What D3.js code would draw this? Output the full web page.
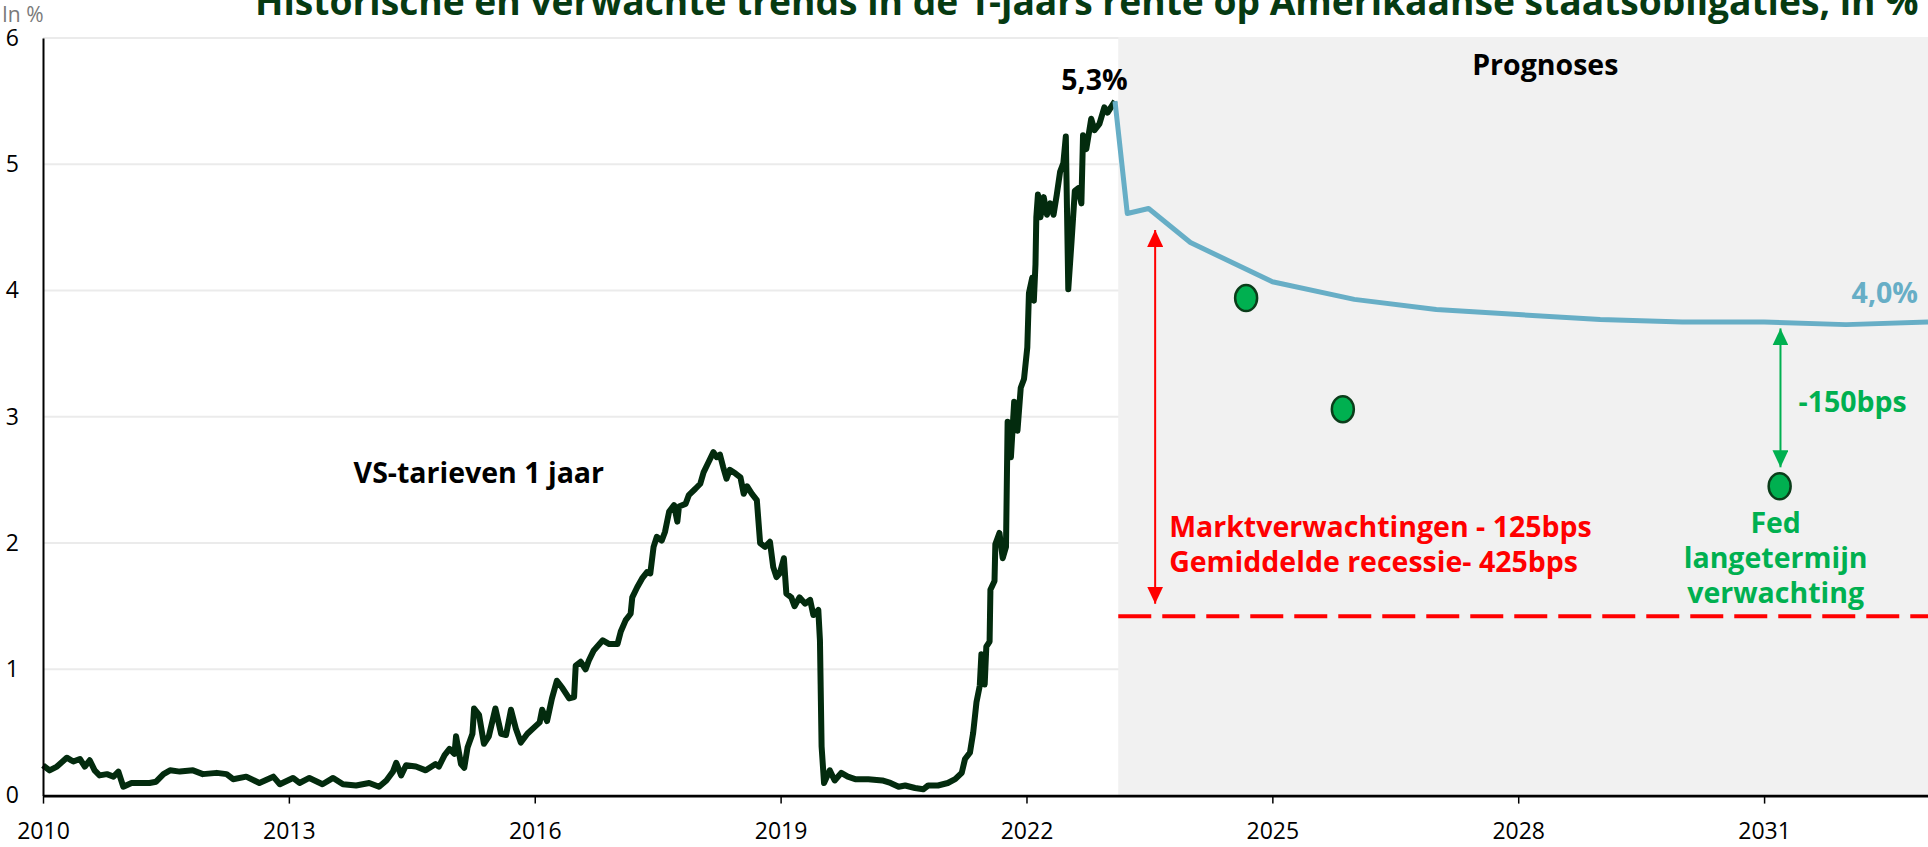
<!DOCTYPE html>
<html>
<head>
<meta charset="utf-8">
<script src="https://cdn.jsdelivr.net/npm/d3@7"></script>
<style>
  html, body { margin: 0; padding: 0; background: #fff; }
  svg { display: block; font-family: "Open Sans", sans-serif; }
</style>
</head>
<body>
<svg id="chart" width="1928" height="847"></svg>
<script>
// 1-year US treasury yield as [decimal year, %]
const history = [
  [2010.00, 0.24], [2010.08, 0.20], [2010.17, 0.23], [2010.29, 0.30], [2010.37, 0.27],
  [2010.45, 0.29], [2010.51, 0.23], [2010.57, 0.28], [2010.63, 0.20], [2010.69, 0.16],
  [2010.78, 0.17], [2010.86, 0.15], [2010.92, 0.19], [2010.98, 0.07], [2011.08, 0.10],
  [2011.18, 0.10], [2011.30, 0.10], [2011.38, 0.11], [2011.47, 0.17], [2011.55, 0.20],
  [2011.67, 0.19], [2011.83, 0.20], [2011.95, 0.17], [2012.12, 0.18], [2012.24, 0.17],
  [2012.32, 0.13], [2012.48, 0.15], [2012.64, 0.10], [2012.81, 0.15], [2012.89, 0.09],
  [2013.05, 0.14], [2013.13, 0.10], [2013.25, 0.14], [2013.41, 0.09], [2013.54, 0.14],
  [2013.66, 0.09], [2013.82, 0.08], [2013.98, 0.10], [2014.10, 0.07], [2014.19, 0.12],
  [2014.27, 0.19], [2014.31, 0.26], [2014.37, 0.16], [2014.43, 0.24], [2014.55, 0.23],
  [2014.67, 0.20], [2014.79, 0.25], [2014.83, 0.23], [2014.90, 0.32], [2014.96, 0.37],
  [2015.02, 0.33], [2015.04, 0.47], [2015.10, 0.25], [2015.14, 0.22], [2015.18, 0.38],
  [2015.24, 0.49], [2015.26, 0.69], [2015.32, 0.64], [2015.38, 0.41], [2015.44, 0.47],
  [2015.52, 0.69], [2015.59, 0.49], [2015.65, 0.48], [2015.71, 0.68], [2015.77, 0.53],
  [2015.83, 0.42], [2015.91, 0.49], [2016.01, 0.55], [2016.06, 0.58], [2016.09, 0.68],
  [2016.15, 0.59], [2016.21, 0.77], [2016.27, 0.91], [2016.34, 0.85], [2016.42, 0.77],
  [2016.48, 0.78], [2016.50, 1.03], [2016.56, 1.06], [2016.62, 1.00], [2016.66, 1.07],
  [2016.72, 1.15], [2016.83, 1.23], [2016.91, 1.20], [2017.01, 1.20], [2017.05, 1.30],
  [2017.11, 1.39], [2017.17, 1.44], [2017.19, 1.57], [2017.25, 1.65], [2017.31, 1.72],
  [2017.37, 1.77], [2017.41, 1.76], [2017.45, 1.97], [2017.49, 2.05], [2017.55, 2.02],
  [2017.59, 2.09], [2017.64, 2.25], [2017.70, 2.30], [2017.74, 2.17], [2017.76, 2.29],
  [2017.84, 2.31], [2017.88, 2.38], [2017.96, 2.43], [2018.02, 2.47], [2018.06, 2.56],
  [2018.12, 2.64], [2018.18, 2.72], [2018.22, 2.68], [2018.26, 2.70], [2018.30, 2.60],
  [2018.34, 2.51], [2018.38, 2.58], [2018.45, 2.55], [2018.51, 2.52], [2018.55, 2.39],
  [2018.59, 2.45], [2018.65, 2.39], [2018.71, 2.34], [2018.75, 2.00], [2018.81, 1.97],
  [2018.87, 2.01], [2018.91, 1.81], [2018.95, 1.73], [2018.99, 1.76], [2019.04, 1.88],
  [2019.07, 1.60], [2019.13, 1.57], [2019.17, 1.50], [2019.23, 1.57], [2019.30, 1.52],
  [2019.36, 1.55], [2019.40, 1.43], [2019.46, 1.47], [2019.48, 1.23], [2019.50, 0.39],
  [2019.53, 0.10], [2019.60, 0.20], [2019.66, 0.12], [2019.74, 0.18], [2019.82, 0.15],
  [2019.91, 0.13], [2020.07, 0.13], [2020.24, 0.12], [2020.34, 0.10], [2020.44, 0.07],
  [2020.52, 0.08], [2020.64, 0.06], [2020.74, 0.05], [2020.80, 0.08], [2020.92, 0.08],
  [2021.04, 0.10], [2021.13, 0.13], [2021.21, 0.18], [2021.25, 0.29], [2021.31, 0.34],
  [2021.35, 0.50], [2021.39, 0.74], [2021.43, 0.87], [2021.45, 1.12], [2021.49, 0.88],
  [2021.51, 1.18], [2021.55, 1.22], [2021.56, 1.63], [2021.61, 1.70], [2021.62, 1.99],
  [2021.67, 2.08], [2021.71, 1.88], [2021.75, 1.97], [2021.77, 2.96], [2021.81, 2.68],
  [2021.85, 3.12], [2021.89, 2.89], [2021.93, 3.23], [2021.97, 3.30], [2022.01, 3.55],
  [2022.03, 3.98], [2022.07, 4.10], [2022.09, 3.92], [2022.11, 4.21], [2022.12, 4.58],
  [2022.14, 4.76], [2022.17, 4.58], [2022.21, 4.74], [2022.25, 4.60], [2022.29, 4.69],
  [2022.33, 4.60], [2022.37, 4.76], [2022.41, 4.94], [2022.45, 5.01], [2022.48, 5.22],
  [2022.51, 4.01], [2022.55, 4.39], [2022.59, 4.79], [2022.63, 4.81], [2022.67, 4.69],
  [2022.69, 5.23], [2022.73, 5.12], [2022.79, 5.36], [2022.83, 5.27], [2022.89, 5.32],
  [2022.95, 5.45], [2022.99, 5.41], [2023.08, 5.50]
];

// market-implied path
const forecast = [
  [2023.08, 5.50], [2023.23, 4.61], [2023.49, 4.65], [2024.00, 4.38], [2025.00, 4.07],
  [2026.00, 3.93], [2027.00, 3.85], [2028.00, 3.81], [2029.00, 3.77], [2030.00, 3.75],
  [2031.00, 3.75], [2032.00, 3.73], [2033.00, 3.75]
];

// Fed dot plot medians
const fedDots = [[2024.68, 3.94], [2025.86, 3.06], [2031.19, 2.45]];

const forecastStart = 2023.12;
const recessionLevel = 1.42;
const marketArrow = {year: 2023.57, from: 4.48, to: 1.52};
const fedArrow = {year: 2031.2, from: 3.70, to: 2.60};

const xTicks = [2010, 2013, 2016, 2019, 2022, 2025, 2028, 2031];
const yTicks = [0, 1, 2, 3, 4, 5, 6];

const width = 1928, height = 847;
const svg = d3.select("#chart");

const x = d3.scaleLinear().domain([2010, 2033]).range([43, width]);
const y = d3.scaleLinear().domain([0, 6]).range([795.6, 38]);

const red = "#ff0000", green = "#00b050", blue = "#67aec6", dark = "#032b0e";

// title (partly cut off at the top, like the source)
svg.append("text")
  .attr("x", 255).attr("y", 15)
  .attr("font-size", 37.2).attr("font-weight", 700)
  .attr("fill", "#063a12")
  .text("Historische en verwachte trends in de 1-jaars rente op Amerikaanse staatsobligaties, in %");

svg.append("text")
  .attr("x", 2).attr("y", 22)
  .attr("font-size", 21).attr("fill", "#7a7a7a")
  .text("In %");

// gridlines
svg.append("g")
  .selectAll("line")
  .data(yTicks.filter(d => d > 0))
  .join("line")
  .attr("x1", x(2010)).attr("x2", width)
  .attr("y1", d => y(d)).attr("y2", d => y(d))
  .attr("stroke", "#ebebeb").attr("stroke-width", 2);

// forecast area
svg.append("rect")
  .attr("x", x(forecastStart)).attr("y", y(6) - 1)
  .attr("width", width - x(forecastStart))
  .attr("height", y(0) - y(6) + 1)
  .attr("fill", "#f1f1f1");

// average recession level
svg.append("line")
  .attr("x1", x(forecastStart)).attr("x2", width)
  .attr("y1", y(recessionLevel)).attr("y2", y(recessionLevel))
  .attr("stroke", red).attr("stroke-width", 4)
  .attr("stroke-dasharray", "33 11");

const line = d3.line().x(d => x(d[0])).y(d => y(d[1]));

svg.append("path")
  .datum(history)
  .attr("d", line)
  .attr("fill", "none")
  .attr("stroke", dark).attr("stroke-width", 6)
  .attr("stroke-linejoin", "round");

svg.append("path")
  .datum(forecast)
  .attr("d", line)
  .attr("fill", "none")
  .attr("stroke", blue).attr("stroke-width", 5)
  .attr("stroke-linejoin", "round");

// axes
const xAxis = svg.append("g")
  .attr("transform", `translate(0,${y(0)})`)
  .call(d3.axisBottom(x).tickValues(xTicks).tickFormat(d3.format("d"))
    .tickSize(8).tickSizeOuter(0).tickPadding(19));
xAxis.select(".domain").attr("stroke", "#000").attr("stroke-width", 2.6);
xAxis.selectAll(".tick line").attr("stroke", "#000").attr("stroke-width", 1.5);
xAxis.selectAll("text").attr("font-size", 23).attr("fill", "#000")
  .attr("font-family", "Open Sans");

const yAxis = svg.append("g")
  .attr("transform", `translate(${x(2010)},0)`)
  .call(d3.axisLeft(y).tickValues(yTicks).tickFormat(d3.format("d"))
    .tickSize(0).tickSizeOuter(0).tickPadding(24));
yAxis.select(".domain").attr("stroke", "#000").attr("stroke-width", 2);
yAxis.selectAll("text").attr("font-size", 23).attr("fill", "#000")
  .attr("font-family", "Open Sans");

// arrow heads
const defs = svg.append("defs");
[["head-red", red], ["head-green", green]].forEach(([id, c]) => {
  defs.append("marker")
    .attr("id", id)
    .attr("markerUnits", "userSpaceOnUse")
    .attr("markerWidth", 17).attr("markerHeight", 16)
    .attr("refX", 17).attr("refY", 8)
    .attr("orient", "auto-start-reverse")
    .append("path")
    .attr("d", "M0,0L17,8L0,16Z")
    .attr("fill", c);
});

function arrow(a, color, id) {
  svg.append("line")
    .attr("x1", x(a.year)).attr("x2", x(a.year))
    .attr("y1", y(a.from)).attr("y2", y(a.to))
    .attr("stroke", color).attr("stroke-width", 2)
    .attr("marker-start", `url(#${id})`)
    .attr("marker-end", `url(#${id})`);
}
arrow(marketArrow, red, "head-red");
arrow(fedArrow, green, "head-green");

// fed dots
svg.append("g")
  .selectAll("ellipse")
  .data(fedDots)
  .join("ellipse")
  .attr("cx", d => x(d[0])).attr("cy", d => y(d[1]))
  .attr("rx", 11).attr("ry", 13)
  .attr("fill", green).attr("stroke", "#0b3d1a").attr("stroke-width", 2.5);

// labels
function label(txt, px, py, opts = {}) {
  svg.append("text")
    .attr("x", px).attr("y", py)
    .attr("font-size", opts.size || 28.5)
    .attr("font-weight", 700)
    .attr("fill", opts.color || "#000")
    .attr("text-anchor", opts.anchor || "start")
    .text(txt);
}

label("Prognoses", x(2028.33), 75, {anchor: "middle"});
label("VS-tarieven 1 jaar", x(2013.79), 483);
label("5,3%", x(2022.83), 90, {anchor: "middle"});
label("4,0%", width - 10, 303, {anchor: "end", color: blue});
label("Marktverwachtingen - 125bps", x(marketArrow.year) + 14, 537, {color: red});
label("Gemiddelde recessie- 425bps", x(marketArrow.year) + 14, 572, {color: red});
label("-150bps", x(fedArrow.year) + 18, 412, {color: green});
["Fed", "langetermijn", "verwachting"].forEach((t, i) =>
  label(t, x(fedDots[2][0]) - 4, 533 + i * 35, {anchor: "middle", color: green}));
</script>
</body>
</html>
